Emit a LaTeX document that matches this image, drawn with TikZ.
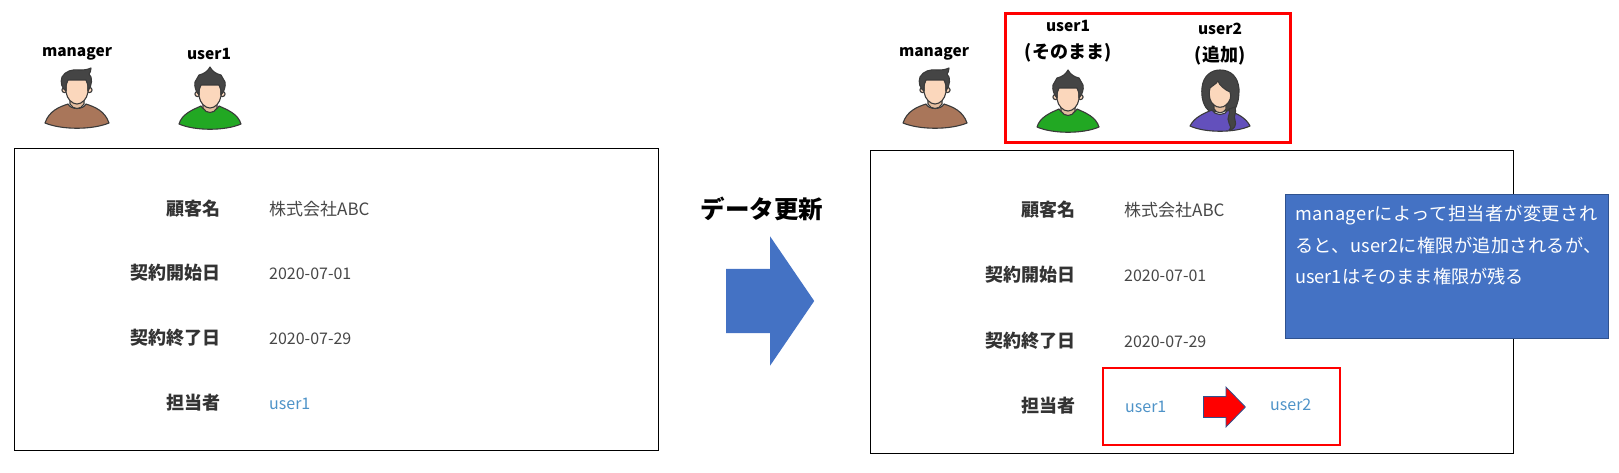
\documentclass[tikz,border=0pt]{standalone}
\usepackage{fontspec}
\setmainfont{Noto Sans CJK JP}
\usepackage{xcolor}
\usetikzlibrary{positioning, shapes.arrows}
\definecolor{figline}{HTML}{3A3A3A}
\definecolor{fighair}{HTML}{454545}
\definecolor{figskin}{HTML}{FBD7BC}
\definecolor{figneck}{HTML}{E3BD9F}
\definecolor{shirtbrown}{HTML}{A9765A}
\definecolor{shirtgreen}{HTML}{22A823}
\definecolor{shirtpurple}{HTML}{6350BC}
\definecolor{officeblue}{HTML}{4472C4}
\definecolor{officeedge}{HTML}{2F528F}
\definecolor{linkblue}{HTML}{4E93C8}
\tikzset{
    panel/.style={rectangle, draw=black, line width=1.3pt, fill=white, anchor=north west, inner sep=0pt},
    redbox/.style={rectangle, draw=red, line width=2.6pt, anchor=north west, inner sep=0pt},
    fieldname/.style={anchor=east, inner sep=0pt, text height=14pt, text depth=4pt, text=black!80, font=\fontsize{18}{20}\selectfont\bfseries},
    fieldvalue/.style={inner sep=0pt, text height=14pt, text depth=4pt, text=black!72, font=\fontsize{16}{20}\selectfont},
    namevalue/.style={fieldvalue, font=\fontsize{17}{20}\selectfont},
    userlink/.style={fieldvalue, text=linkblue},
    who/.style={inner sep=0pt, text=black, text height=13pt, text depth=4pt, font=\fontsize{15.5}{20}\selectfont\bfseries},
    whonote/.style={who, font=\fontsize{18}{20}\selectfont\bfseries},
    note/.style={rectangle, draw=officeedge, line width=1pt, fill=officeblue, anchor=north west, inner sep=0pt},
    noteline/.style={anchor=west, inner sep=0pt, text=white, text height=14pt, text depth=4pt, font=\fontsize{18.2}{20}\selectfont},
    figure/.style={draw=figline, line width=1.1pt, line join=round},
    % Faces and ears are the same for the two men
    manface/.pic={
        \draw[figure, fill=figskin] (-12.5,21) circle[radius=2.6];
        \draw[figure, fill=figskin] (12.5,21) circle[radius=2.6];
        \draw[figure, fill=figneck] (-7,27) -- (-7,35) .. controls (-4,41) and (4,41) .. (7,35) -- (7,27) -- cycle;
        \draw[figure, fill=figskin] (-11,9) -- (-11,23) .. controls (-10,30) and (-5,35) .. (0,35) .. controls (5,35) and (10,30) .. (11,23) -- (11,9) -- cycle;
    },
    manager/.pic={
        \draw[figure, fill=shirtbrown] (-32,54) .. controls (-28,42) and (-18,38) .. (-9,35) .. controls (-6,41) and (6,41) .. (9,35) .. controls (18,38) and (28,42) .. (32,54) .. controls (15,61) and (-15,61) .. cycle;
        \pic {manface};
        \draw[figure, fill=fighair] (-11,22) .. controls (-15,20) and (-17,13) .. (-15,8) .. controls (-12,2) and (-4,0) .. (2,1) .. controls (6,1) and (10,1) .. (14,-1) .. controls (14,2) and (13,4) .. (12,5) .. controls (16,8) and (15,17) .. (11,22) .. controls (11,17) and (11,14) .. (9,11) -- (-9,11) .. controls (-11,14) and (-11,17) .. (-11,22) -- cycle;
    },
    spikyman/.pic={
        \draw[figure, fill=shirtgreen] (-31,56) .. controls (-28,46) and (-18,42) .. (-9,38) .. controls (-6,44) and (6,44) .. (9,38) .. controls (18,42) and (28,46) .. (31,56) .. controls (15,63) and (-15,63) .. cycle;
        \pic at (0,5) {manface};
        \draw[figure, fill=fighair] (-11,27) .. controls (-14,24) and (-16,18) .. (-15,14) -- (-11,7) .. controls (-6,6) and (-2,3) .. (0,-1) .. controls (2,3) and (6,6) .. (11,7) -- (15,14) .. controls (16,18) and (14,24) .. (11,27) .. controls (11,23) and (11,20) .. (9,17) -- (-9,17) .. controls (-11,20) and (-11,23) .. (-11,27) -- cycle;
    },
    longhair/.pic={
        \draw[figure, fill=fighair] (-9,42) .. controls (-17,38) and (-19,26) .. (-18,18) .. controls (-17,6) and (-9,0) .. (0,0) .. controls (11,0) and (18,7) .. (19,19) .. controls (19,28) and (18,34) .. (14,41) -- (5,41) -- cycle;
        \draw[figure, fill=shirtpurple] (-30,56) .. controls (-26,48) and (-18,44) .. (-8,40) .. controls (-5,46) and (5,46) .. (8,40) .. controls (18,44) and (26,48) .. (30,56) .. controls (15,63) and (-15,63) .. cycle;
        \draw[figure, fill=figneck] (-6,30) -- (-6,39) .. controls (-3,44) and (3,44) .. (6,39) -- (6,30) -- cycle;
        \draw[figure, fill=figskin] (-10,18) .. controls (-12,26) and (-10,32) .. (-6,35) .. controls (-3,38) and (3,38) .. (6,35) .. controls (10,32) and (12,26) .. (10,22) .. controls (5,20) and (-1,15) .. (-2,11) .. controls (-4,14) and (-8,16) .. (-10,18) -- cycle;
        \draw[figure, fill=fighair] (9,39) .. controls (11,45) and (6,47) .. (9,53) .. controls (10,56) and (12,58) .. (9,60) .. controls (14,60) and (17,55) .. (15,50) .. controls (13,46) and (17,43) .. (15,37) -- cycle;
    }
}
\begin{document}
\begin{tikzpicture}[x=1pt, y=-1pt]
        \useasboundingbox (0,0) rectangle (1619,473);

        % Left side
        \node[panel, minimum width=644pt, minimum height=302pt] (leftPanel) at (14,148) {};
        \node[who] (leftManager) at (77,52.5) {manager};
        \node[who] (leftUser) at (209,55.5) {user1};
        \pic (leftManagerFig) at (77,69) {manager};
        \pic (leftUserFig) at (210,68) {spikyman};

        \node[fieldname] (leftName) at (221,210) {顧客名};
        \node[fieldname] (leftStart) at (221,274) {契約開始日};
        \node[fieldname] (leftEnd) at (221,339) {契約終了日};
        \node[fieldname] (leftOwner) at (221,404) {担当者};
        \node[namevalue, right=48pt of leftName] (leftNameVal) {株式会社ABC};
        \node[fieldvalue, right=48pt of leftStart] (leftStartVal) {2020-07-01};
        \node[fieldvalue, right=48pt of leftEnd] (leftEndVal) {2020-07-29};
        \node[userlink, right=48pt of leftOwner] (leftOwnerVal) {user1};

        % Update arrow
        \node[font=\fontsize{24.5}{28}\selectfont\bfseries, inner sep=0pt] (updateText) at (762,209) {データ更新};
        \node[single arrow, fill=officeblue, anchor=tail, inner xsep=0pt, inner ysep=32pt, minimum height=88pt, single arrow head extend=32.5pt, single arrow tip angle=111.4] (updateArrow) at (726,301) {};

        % Right side
        \node[panel, minimum width=643pt, minimum height=303pt] (rightPanel) at (870,150) {};
        \node[who] (rightManager) at (934,52.5) {manager};
        \pic (rightManagerFig) at (935,69) {manager};
        \node[redbox, minimum width=285pt, minimum height=129pt] (usersBox) at (1004,12.5) {};
        \node[who] (rightUser) at (1068,27.5) {user1};
        \node[whonote, below=9pt of rightUser] (rightUserNote) {(そのまま)};
        \node[who] (rightUserB) at (1220,30.5) {user2};
        \node[whonote, below=9pt of rightUserB] (rightUserBNote) {(追加)};
        \pic (rightUserFig) at (1068,71) {spikyman};
        \pic (rightUserBFig) at (1220,70) {longhair};

        \node[fieldname] (rightName) at (1076,211) {顧客名};
        \node[fieldname] (rightStart) at (1076,276.5) {契約開始日};
        \node[fieldname] (rightEnd) at (1076,342) {契約終了日};
        \node[fieldname] (rightOwner) at (1076,407) {担当者};
        \node[namevalue, right=48pt of rightName] (rightNameVal) {株式会社ABC};
        \node[fieldvalue, right=48pt of rightStart] (rightStartVal) {2020-07-01};
        \node[fieldvalue, right=48pt of rightEnd] (rightEndVal) {2020-07-29};
        \node[userlink, right=49pt of rightOwner] (rightOwnerVal) {user1};

        \node[redbox, line width=2.2pt, minimum width=237pt, minimum height=77pt] (ownerBox) at (1102,367) {};
        \node[single arrow, fill=red, draw=officeedge, line width=0.8pt, anchor=tail, inner xsep=0pt, inner ysep=10pt, minimum height=42pt, single arrow head extend=9.5pt, single arrow tip angle=91.5] (ownerArrow) at (1203,407) {};
        \node[userlink, anchor=west] (rightOwnerNew) at (1270,405) {user2};

        % Note
        \node[note, minimum width=323pt, minimum height=144pt] (noteBox) at (1285,194) {};
        \node[noteline] (noteA) at (1295,215) {\addfontfeature{LetterSpace=3}managerによって担当者が変更され};
        \node[noteline] (noteB) at (1295,247) {\addfontfeature{LetterSpace=1.8}ると、user2に権限が追加されるが、};
        \node[noteline] (noteC) at (1295,278) {user1はそのまま権限が残る};

    \end{tikzpicture}
\end{document}
